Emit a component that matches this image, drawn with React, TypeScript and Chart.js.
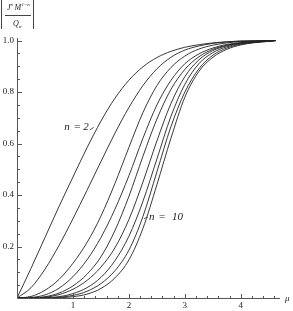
import React, { useEffect, useRef } from "react";
import { Chart, registerables } from "chart.js";

Chart.register(...registerables);

const MU = [0, 0.25, 0.5, 0.75, 1, 1.25, 1.5, 1.75, 2, 2.25, 2.5, 2.75, 3, 3.25, 3.5, 3.75, 4, 4.25, 4.5, 4.62];

const N2 = [0, 0.115, 0.235, 0.355, 0.47, 0.583, 0.687, 0.776, 0.846, 0.898, 0.934, 0.958, 0.974, 0.984, 0.991, 0.995, 0.998, 0.999, 1.0, 1.0];
const N3 = [0, 0.04, 0.112, 0.204, 0.308, 0.418, 0.53, 0.64, 0.74, 0.825, 0.89, 0.935, 0.963, 0.979, 0.989, 0.995, 0.998, 0.999, 1.0, 1.0];
const N4 = [0, 0.006, 0.03, 0.072, 0.135, 0.215, 0.318, 0.445, 0.585, 0.72, 0.825, 0.895, 0.94, 0.967, 0.982, 0.991, 0.996, 0.998, 1.0, 1.0];
const N5 = [0, 0.002, 0.012, 0.038, 0.083, 0.148, 0.235, 0.345, 0.475, 0.62, 0.75, 0.845, 0.91, 0.948, 0.971, 0.985, 0.992, 0.996, 0.999, 1.0];
const N6 = [0, 0.0, 0.005, 0.019, 0.047, 0.092, 0.16, 0.262, 0.395, 0.55, 0.695, 0.81, 0.888, 0.937, 0.966, 0.982, 0.991, 0.996, 0.999, 1.0];
const N7 = [0, 0.0, 0.003, 0.013, 0.034, 0.068, 0.12, 0.195, 0.305, 0.45, 0.61, 0.755, 0.86, 0.925, 0.961, 0.98, 0.99, 0.995, 0.998, 1.0];
const N8 = [0, 0.0, 0.001, 0.005, 0.017, 0.04, 0.08, 0.145, 0.24, 0.375, 0.54, 0.705, 0.83, 0.91, 0.953, 0.976, 0.988, 0.994, 0.998, 1.0];
const N9 = [0, 0.0, 0.0, 0.003, 0.01, 0.026, 0.056, 0.106, 0.186, 0.316, 0.49, 0.665, 0.8, 0.89, 0.943, 0.971, 0.986, 0.993, 0.997, 1.0];
const N10 = [0, 0.0, 0.0, 0.001, 0.005, 0.015, 0.037, 0.078, 0.148, 0.27, 0.44, 0.62, 0.78, 0.88, 0.935, 0.966, 0.983, 0.992, 0.997, 1.0];

const SERIES = [N2, N3, N4, N5, N6, N7, N8, N9, N10];
const SERIES_N = ["2", "3", "4", "5", "6", "7", "8", "9", "10"];

const X_TICKS = [1, 2, 3, 4];
const Y_TICKS = [0.2, 0.4, 0.6, 0.8, 1.0];
const X_LABEL = "μ";

const SERIF = "'Liberation Serif', 'DejaVu Serif', serif";

function drawLabel(ctx: CanvasRenderingContext2D, x: number, y: number, num: string) {
  ctx.textAlign = "left";
  ctx.textBaseline = "middle";
  ctx.font = `italic 11px ${SERIF}`;
  ctx.fillText("n", x, y);
  ctx.font = `11px ${SERIF}`;
  ctx.fillText("=", x + 10, y);
  ctx.font = `italic 11px ${SERIF}`;
  ctx.fillText(num, x + 19 + (num.length > 1 ? 4 : 0), y);
}

function labelWidth(ctx: CanvasRenderingContext2D, num: string) {
  ctx.font = `italic 11px ${SERIF}`;
  return 19 + (num.length > 1 ? 4 : 0) + ctx.measureText(num).width;
}

const axesPlugin = {
  id: "mathAxes",
  afterDatasetsDraw(chart: any) {
    const ctx = chart.ctx as CanvasRenderingContext2D;
    const xs = chart.scales.x;
    const ys = chart.scales.y;
    const x0 = xs.getPixelForValue(0);
    const y0 = ys.getPixelForValue(0);
    const xEnd = xs.getPixelForValue(xs.max);
    const yTop = ys.getPixelForValue(ys.max);
    ctx.save();
    ctx.strokeStyle = "#555";
    ctx.lineWidth = 1;
    ctx.beginPath();
    ctx.moveTo(Math.round(x0) + 0.5, Math.round(yTop));
    ctx.lineTo(Math.round(x0) + 0.5, Math.round(y0) + 0.5);
    ctx.lineTo(Math.round(xEnd), Math.round(y0) + 0.5);
    ctx.stroke();
    ctx.beginPath();
    for (let k = 1; k * 0.2 <= xs.max + 1e-9; k++) {
      const px = Math.round(xs.getPixelForValue(k * 0.2)) + 0.5;
      const major = k % 5 === 0;
      ctx.moveTo(px, Math.round(y0));
      ctx.lineTo(px, Math.round(y0) - (major ? 4 : 2));
    }
    for (let k = 1; k * 0.05 <= ys.max + 1e-9; k++) {
      const py = Math.round(ys.getPixelForValue(k * 0.05)) + 0.5;
      const major = k % 4 === 0;
      ctx.moveTo(Math.round(x0) + 1, py);
      ctx.lineTo(Math.round(x0) + 1 + (major ? 4 : 2), py);
    }
    ctx.stroke();

    ctx.fillStyle = "#222";
    ctx.font = `9px ${SERIF}`;
    ctx.textAlign = "center";
    ctx.textBaseline = "middle";
    X_TICKS.forEach((t) => {
      ctx.fillText(String(t), xs.getPixelForValue(t), y0 + 8);
    });
    ctx.textAlign = "right";
    Y_TICKS.forEach((t) => {
      ctx.fillText(t.toFixed(1), x0 - 3, ys.getPixelForValue(t));
    });
    ctx.font = `italic 9px ${SERIF}`;
    ctx.textAlign = "left";
    ctx.fillText(X_LABEL, xEnd + 5, y0 + 1);

    // y title: |J^n M^{1-n} / Q_n|
    ctx.strokeStyle = "#444";
    ctx.beginPath();
    ctx.moveTo(1.5, 0);
    ctx.lineTo(1.5, 29);
    ctx.moveTo(33.5, 0);
    ctx.lineTo(33.5, 29);
    ctx.moveTo(5, 15.5);
    ctx.lineTo(31, 15.5);
    ctx.stroke();
    ctx.textBaseline = "alphabetic";
    ctx.font = `italic 8px ${SERIF}`;
    ctx.fillText("J", 7, 10);
    ctx.fillText("M", 14.5, 10);
    ctx.fillText("Q", 13, 26);
    ctx.font = `italic 5px ${SERIF}`;
    ctx.fillText("n", 10.5, 6);
    ctx.fillText("1\u2212n", 21.5, 6);
    ctx.fillText("n", 19, 27.5);

    // curve labels
    ctx.strokeStyle = "#333";
    ctx.lineWidth = 0.8;
    const a2x = xs.getPixelForValue(1.39);
    const a2y = ys.getPixelForValue(0.655);
    ctx.beginPath();
    ctx.moveTo(a2x - 1, a2y - 2);
    ctx.lineTo(a2x - 5, a2y + 0.5);
    ctx.stroke();
    drawLabel(ctx, a2x - 6 - labelWidth(ctx, SERIES_N[0]), a2y - 2, SERIES_N[0]);
    const a10x = xs.getPixelForValue(2.25);
    const a10y = ys.getPixelForValue(0.31);
    ctx.beginPath();
    ctx.moveTo(a10x + 1, a10y + 0.5);
    ctx.lineTo(a10x + 5, a10y - 1);
    ctx.stroke();
    drawLabel(ctx, a10x + 6, a10y - 1, SERIES_N[8]);
    ctx.restore();
  },
};

export default function App() {
  const ref = useRef<HTMLCanvasElement | null>(null);
  useEffect(() => {
    if (!ref.current) return;
    const datasets = SERIES.map((s, i) => ({
      label: "n = " + SERIES_N[i],
      data: MU.map((m, j) => ({ x: m, y: s[j] })),
      borderColor: "#222",
      borderWidth: 0.9,
      pointRadius: 0,
      fill: false,
      cubicInterpolationMode: "monotone" as const,
    }));
    const chart = new Chart(ref.current, {
      type: "line",
      data: { datasets },
      options: {
        animation: false,
        responsive: false,
        maintainAspectRatio: false,
        layout: { padding: { left: 17, top: 38, right: 13, bottom: 13 } },
        plugins: { legend: { display: false }, tooltip: { enabled: false } },
        scales: {
          x: { type: "linear", min: 0, max: 4.7, display: false },
          y: { type: "linear", min: 0, max: 1.01, display: false },
        },
      },
      plugins: [axesPlugin],
    });
    return () => chart.destroy();
  }, []);
  return (
    <div style={{ position: "fixed", left: 0, top: 0, width: 293, height: 311, background: "#fff" }}>
      <canvas ref={ref} width={293} height={311} style={{ width: 293, height: 311 }} />
    </div>
  );
}
